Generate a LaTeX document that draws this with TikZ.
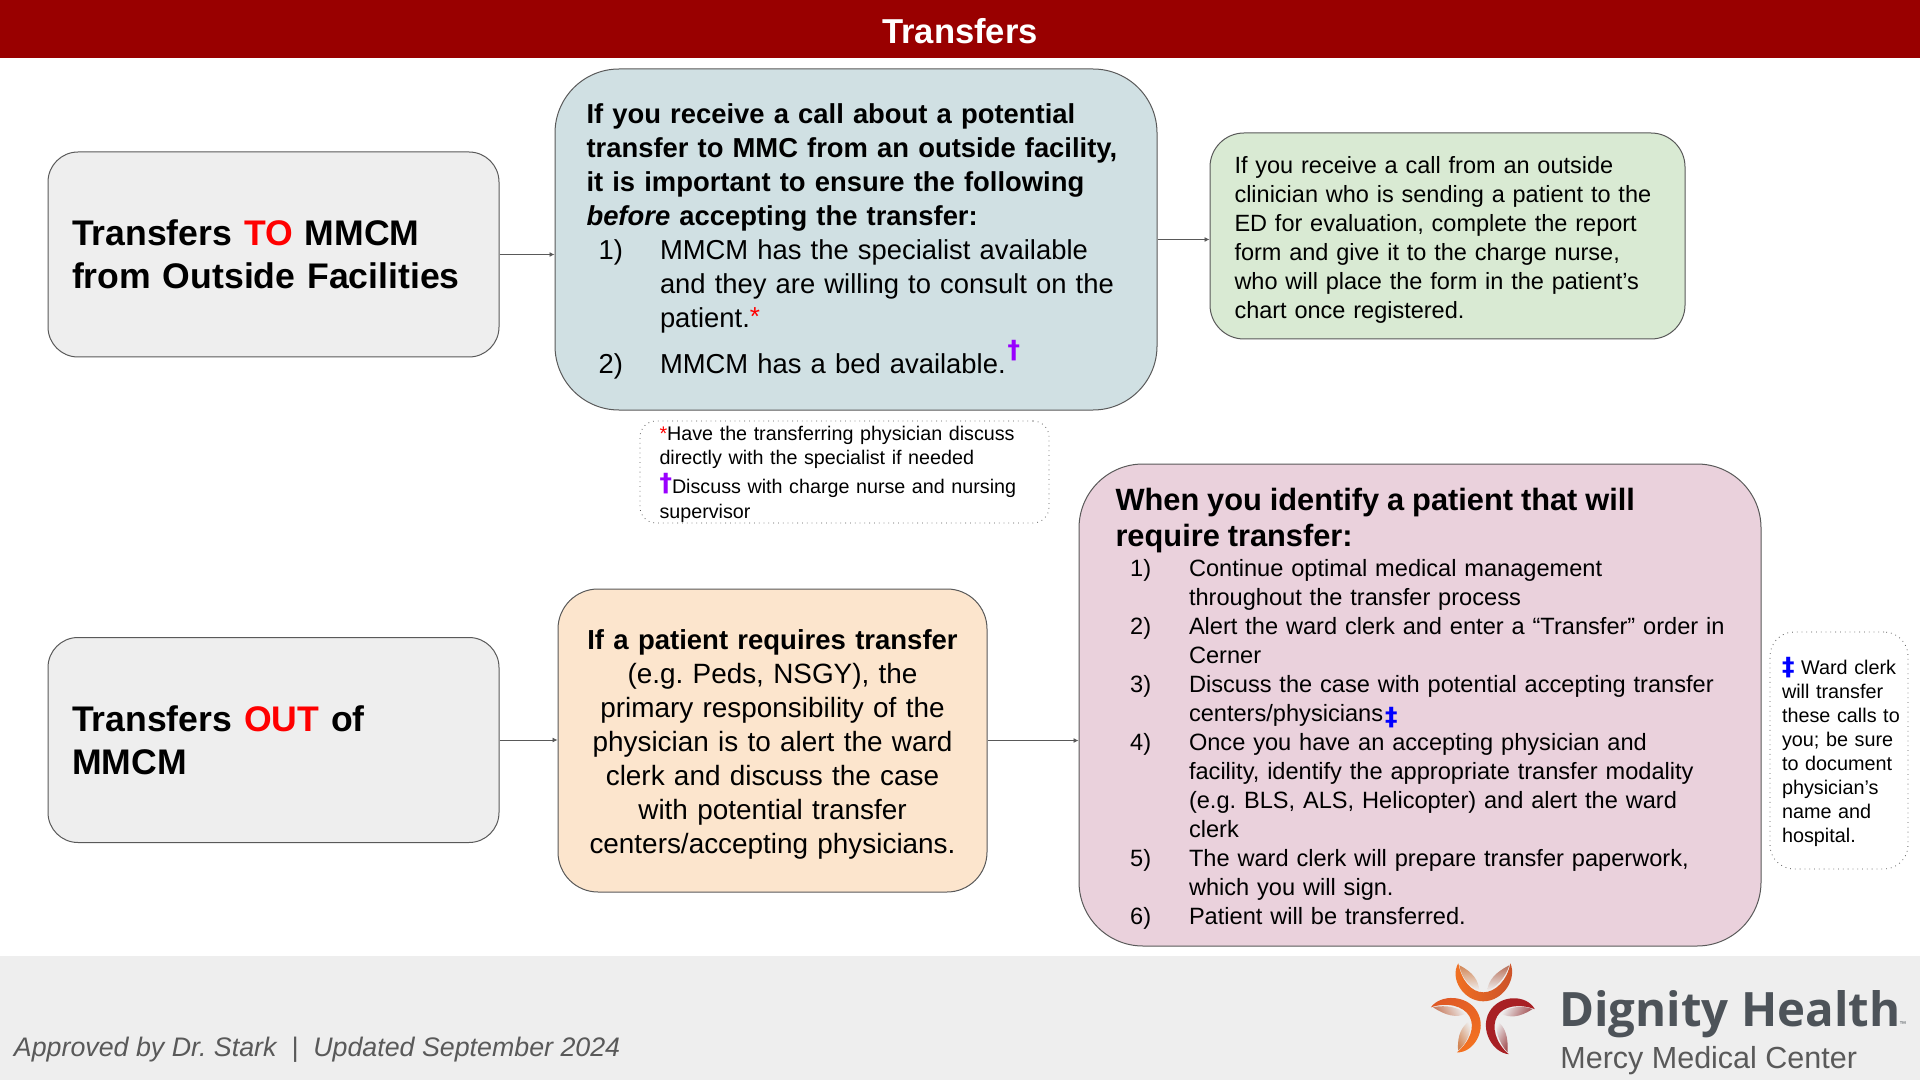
\documentclass[tikz,border=0pt]{standalone}
\usepackage{fontspec}
\setmainfont{Liberation Sans}
\newfontfamily\logofont{Open Sans}
\newfontfamily\djv{DejaVu Sans}
\usetikzlibrary{arrows.meta}
\AtBeginDocument{\frenchspacing}
\definecolor{hdr}{HTML}{990000}
\definecolor{foot}{HTML}{EEEEEE}
\definecolor{edge}{HTML}{595959}
\definecolor{bluebox}{HTML}{D0E0E3}
\definecolor{greenbox}{HTML}{D9EAD3}
\definecolor{peach}{HTML}{FCE5CD}
\definecolor{pinkbox}{HTML}{EAD1DC}
\definecolor{purp}{HTML}{9900FF}
\definecolor{logogray}{HTML}{4D5359}
\newcommand{\fs}[2]{\fontsize{#1}{#2}\selectfont}
\newcommand{\itm}[3]{\hspace*{#1}\makebox[#2][l]{#3}}
\newcommand{\ind}[1]{\hspace*{#1}}
\newcommand{\rast}{{\color{red}\raisebox{0.8pt}{\fs{13}{13}*}}}
\newcommand{\heavy}[3]{\smash{{\color{#1}\raisebox{#2}{\djv\bfseries\fs{12.5}{12.5}#3}}}}
\tikzset{
  x=0.5pt,y=-0.5pt,
  boxn/.style={draw=edge,line width=0.5pt,align=left,inner ysep=0pt},
  grayn/.style={boxn,fill=foot,rounded corners=15pt,minimum width=225.5pt,minimum height=102.5pt,text width=201.5pt,inner xsep=12pt,font=\bfseries\fs{17.8}{21.5}},
  notes/.style={draw=edge,dotted,line width=0.4pt,align=left,inner ysep=0pt},
  link/.style={draw=edge,line width=0.4pt,-{Latex[length=2.5pt,width=2.5pt]}}
}
\begin{document}
\begin{tikzpicture}
\useasboundingbox (0,0) rectangle (1920,1080);
\fill[hdr] (0,0) rectangle (1920,58);
\fill[foot] (0,956) rectangle (1920,1080);
\node[text=white,font=\bfseries\fs{17.3}{20}] (title) at (960,31) {Transfers};

\node[grayn] (to) at (273.5,254.5) {Transfers {\color{red}TO} MMCM\\from Outside Facilities};
\node[grayn] (out) at (273.5,740) {Transfers {\color{red}OUT} of\\MMCM};

\node[boxn,fill=bluebox,rounded corners=32pt,minimum width=301pt,minimum height=170.5pt,text width=269.5pt,inner xsep=15.75pt,font=\fs{13.7}{17}] (accept) at (856,239.5) {%
\rule{0pt}{11.8pt}\textbf{If you receive a call about a potential}\\
\textbf{transfer to MMC from an outside facility,}\\
\textbf{it is important to ensure the following}\\
\textbf{\textit{before} accepting the transfer:}\\
\itm{6.1pt}{30.65pt}{1)}MMCM has the specialist available\\
\ind{36.75pt}and they are willing to consult on the\\
\ind{36.75pt}patient.\rast\\[6pt]
\itm{6.1pt}{30.65pt}{2)}MMCM has a bed available.\kern1pt\heavy{purp}{7.5pt}{†}};

\node[boxn,fill=greenbox,rounded corners=17pt,minimum width=237.5pt,minimum height=103pt,text width=213pt,inner xsep=12.25pt,font=\fs{11.75}{14.5}] (report) at (1447.5,236) {%
\rule{0pt}{12.3pt}If you receive a call from an outside\\
clinician who is sending a patient to the\\
ED for evaluation, complete the report\\
form and give it to the charge nurse,\\
who will place the form in the patient’s\\
chart once registered.};

\node[notes,rounded corners=8pt,minimum width=204.5pt,minimum height=51pt,text width=185pt,inner xsep=9.75pt,font=\fs{9.86}{12.2}] (note1) at (844.5,472) {%
\rule{0pt}{9.6pt}{\color{red}*}Have the transferring physician discuss\\
directly with the specialist if needed\\[2pt]
\heavy{purp}{1pt}{†}Discuss with charge nurse and nursing\\[0.6pt]
supervisor};

\node[boxn,fill=peach,rounded corners=20pt,minimum width=214.5pt,minimum height=151.5pt,text width=200pt,inner xsep=7.25pt,align=center,font=\fs{13.95}{17}] (resp) at (772.5,740.5) {%
\rule{0pt}{13.8pt}{\bfseries\fs{13.75}{17}If a patient requires transfer}\\
(e.g. Peds, NSGY), the\\
primary responsibility of the\\
physician is to alert the ward\\
clerk and discuss the case\\
with potential transfer\\
centers/accepting physicians.};

\node[boxn,fill=pinkbox,rounded corners=32pt,minimum width=341pt,minimum height=241pt,text width=304.5pt,inner xsep=18.25pt,font=\fs{11.8}{14.5}] (steps) at (1420,705) {%
\rule{0pt}{15pt}{\bfseries\fs{15.4}{18.4}When you identify a patient that will}\\[3.9pt]
{\bfseries\fs{15.4}{18.4}require transfer:}\\[0.5pt]
\itm{7.35pt}{29.4pt}{1)}Continue optimal medical management\\
\ind{36.75pt}throughout the transfer process\\
\itm{7.35pt}{29.4pt}{2)}\mbox{Alert the ward clerk and enter a “Transfer” order in}\\
\ind{36.75pt}Cerner\\
\itm{7.35pt}{29.4pt}{3)}Discuss the case with potential accepting transfer\\
\ind{36.75pt}centers/physicians\kern1pt\heavy{blue}{-1.6pt}{‡}\\
\itm{7.35pt}{29.4pt}{4)}Once you have an accepting physician and\\
\ind{36.75pt}facility, identify the appropriate transfer modality\\
\ind{36.75pt}(e.g. BLS, ALS, Helicopter) and alert the ward\\
\ind{36.75pt}clerk\\
\itm{7.35pt}{29.4pt}{5)}The ward clerk will prepare transfer paperwork,\\
\ind{36.75pt}which you will sign.\\
\itm{7.35pt}{29.4pt}{6)}Patient will be transferred.};

\node[notes,rounded corners=12pt,minimum width=69pt,minimum height=118.5pt,text width=57pt,inner xsep=6pt,font=\fs{9.9}{12.05}] (note2) at (1839,750.5) {%
\rule{0pt}{10.1pt}\mbox{\heavy{blue}{-0.6pt}{‡} Ward clerk}\\
will transfer\\
\mbox{these calls to}\\
you; be sure\\
to document\\
physician’s\\
name and\\
hospital.};

\draw[link] (to.east) -- (accept.west |- to.east);
\draw[link] (accept.east) -- (report.west |- accept.east);
\draw[link] (out.east) -- (resp.west |- out.east);
\draw[link] (resp.east) -- (steps.west |- resp.east);

\node[anchor=base west,inner sep=0pt,text=edge,font=\itshape\fs{13.4}{16}] (approved) at (13.5,1056) {Approved by Dr. Stark \ | \ Updated September 2024};

% logo
\begin{scope}[shift={(1483.3,1008.3)}]
\foreach \ang/\ca/\cm/\cb in {0/F47321/E8622A/C9502A,120/F47321/F26A24/E05A26,240/A82024/D9562A/A82024}{
\begin{scope}[rotate=\ang]
\definecolor{ua}{HTML}{\ca}\definecolor{um}{HTML}{\cm}\definecolor{ub}{HTML}{\cb}
\shade[left color=ua,middle color=um,right color=ub,shading angle=90+\ang]
 (-25,-45) .. controls (-34,-30) and (-20,-7) .. (0,-7)
 .. controls (20,-7) and (34,-30) .. (27,-45)
 .. controls (24,-28) and (12,-16) .. (0,-16)
 .. controls (-12,-16) and (-22,-28) .. cycle;
\shade[top color=ua!80!black!75!white,bottom color=foot,shading angle=\ang]
 (-24,-43) .. controls (-22,-30) and (-12,-20) .. (-4,-18) .. controls (-5,-28) and (-10,-36) .. cycle;
\shade[top color=ub!80!black!75!white,bottom color=foot,shading angle=\ang]
 (26,-43) .. controls (22,-30) and (12,-20) .. (4,-18) .. controls (5,-28) and (12,-36) .. cycle;
\end{scope}}
\end{scope}
\node[anchor=base west,inner sep=0pt,text=logogray,font=\logofont\bfseries\fs{23.7}{28}] (dh) at (1559,1026) {Dignity Health};
\node[anchor=base west,inner sep=0pt,text=logogray,font=\fs{3.5}{4}] (tm) at (1899,1026) {™};
\node[anchor=base west,inner sep=0pt,text=edge,font=\fs{15.25}{18}] (mmc) at (1560,1068) {Mercy Medical Center};
\end{tikzpicture}
\end{document}
